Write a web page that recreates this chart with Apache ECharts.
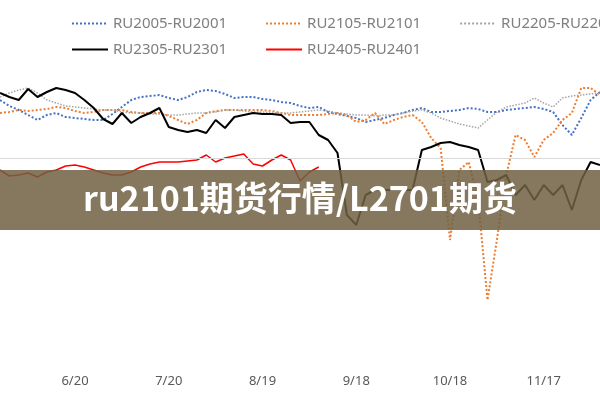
<!DOCTYPE html>
<html><head><meta charset="utf-8">
<script src="https://cdn.jsdelivr.net/npm/echarts@6/dist/echarts.min.js"></script>
<style>html,body{margin:0;padding:0;background:#fff}#c{width:600px;height:400px}</style>
</head><body><div id="c"></div>
<script>
// dates every 3 days from 5/27
const categories = [];
(function(){ let d = new Date(2020,4,27); for (let i=0;i<65;i++){ categories.push((d.getMonth()+1)+'/'+d.getDate()); d.setDate(d.getDate()+3);} })();
const tickLabels = ['6/20','7/20','8/19','9/18','10/18','11/17'];
const ru2005 = [58,52,48,43,38,43,45,41,40,39,38,38,44,51,58,61,62,63,60,58,61,66,68,67,64,60,61,61,59,58,56,55,52,50,51,46,44,42,40,36,38,40,43,45,48,50,46,46,47,48,50,49,46,46,48,49,50,51,49,46,33,23,40,58,66];
const ru2105 = [45,46,48,47,48,49,51,50,47,45,46,48,48,48,46,45,45,45,42,38,34,38,45,47,48,48,48,48,48,47,45,43,43,43,43,44,45,43,36,38,45,34,38,41,43,36,20,10,-82,-12,-4,-42,-142,-82,-17,23,18,1,18,25,38,45,70,70,63];
const ru2205 = [61,65,68,70,65,58,55,52,51,50,49,48,48,46,45,45,44,44,43,43,44,45,45,46,48,48,47,46,46,45,45,45,46,47,48,47,45,44,43,43,42,43,43,45,47,48,45,40,37,34,32,30,38,46,51,53,55,60,55,51,60,62,63,64,65];
const ru2305 = [65,61,58,69,61,66,70,68,65,58,50,39,34,45,35,41,45,50,31,28,26,28,25,38,30,41,43,45,44,44,43,35,36,36,23,18,5,-57,-67,-37,-32,-32,-32,-32,-32,8,11,15,16,13,11,8,-24,-22,-17,-37,-27,-42,-27,-37,-27,-52,-22,-4,-7];
const ru2405 = [-12,-18,-17,-15,-19,-14,-12,-8,-7,-9,-12,-15,-17,-17,-14,-9,-6,-4,-4,-4,-3,-2,3,-4,0,2,4,-6,-8,-2,3,-2,-23,-14,-9];
const names = ['RU2005-RU2001','RU2105-RU2101','RU2205-RU2201','RU2305-RU2301','RU2405-RU2401'];
const title = 'ru2101期货行情/L2701期货';

const chart = echarts.init(document.getElementById('c'));
const mk = (name, data, color, type, width) => ({name, type:'line', data, symbol:'none', smooth:false,
  lineStyle:{color, type, width}, itemStyle:{color}, z: 2});
const legendText = {color:'#7f7f7f', fontSize:15, fontFamily:'Noto Sans'};
const lg = {itemWidth:36, itemHeight:10, itemGap:38, width:1000, textStyle:legendText, itemStyle:{opacity:0}};
chart.setOption({
  animation:false,
  grid:{left:0,right:0,top:58,bottom:30},
  legend:[
    Object.assign({data:names.slice(0,3), left:66, top:11}, lg),
    Object.assign({data:names.slice(3), left:66, top:37}, lg)
  ],
  xAxis:{type:'category', data:categories, boundaryGap:false,
    axisLine:{show:false}, axisTick:{show:false}, splitLine:{show:false},
    axisLabel:{margin:5, color:'#595959', fontSize:13, fontFamily:'Noto Sans',
      interval:(i,v)=>tickLabels.indexOf(v)>=0}},
  yAxis:{type:'value', min:-212, max:100, show:false, splitLine:{show:false}},
  series:[
    mk(names[0], ru2005, '#4472c4', 'dotted', 2),
    mk(names[1], ru2105, '#ed7d31', 'dotted', 2),
    mk(names[2], ru2205, '#a5a5a5', 'dotted', 1.5),
    Object.assign(mk(names[3], ru2305, '#000000', 'solid', 2), {
      markLine:{silent:true, symbol:'none', label:{show:false}, lineStyle:{color:'#d9d9d9', type:'solid', width:1}, data:[{yAxis:0}]}}),
    mk(names[4], ru2405, '#ff0000', 'solid', 1.5)
  ],
  graphic:[
    {type:'rect', left:0, top:170, shape:{width:600, height:60}, style:{fill:'rgba(112,96,66,0.85)'}, z:100},
    {type:'text', left:'center', top:181, style:{text:title, fill:'#ffffff', font:'bold 34px "Noto Sans CJK SC", "Noto Sans"'}, z:101}
  ]
});
</script></body></html>
